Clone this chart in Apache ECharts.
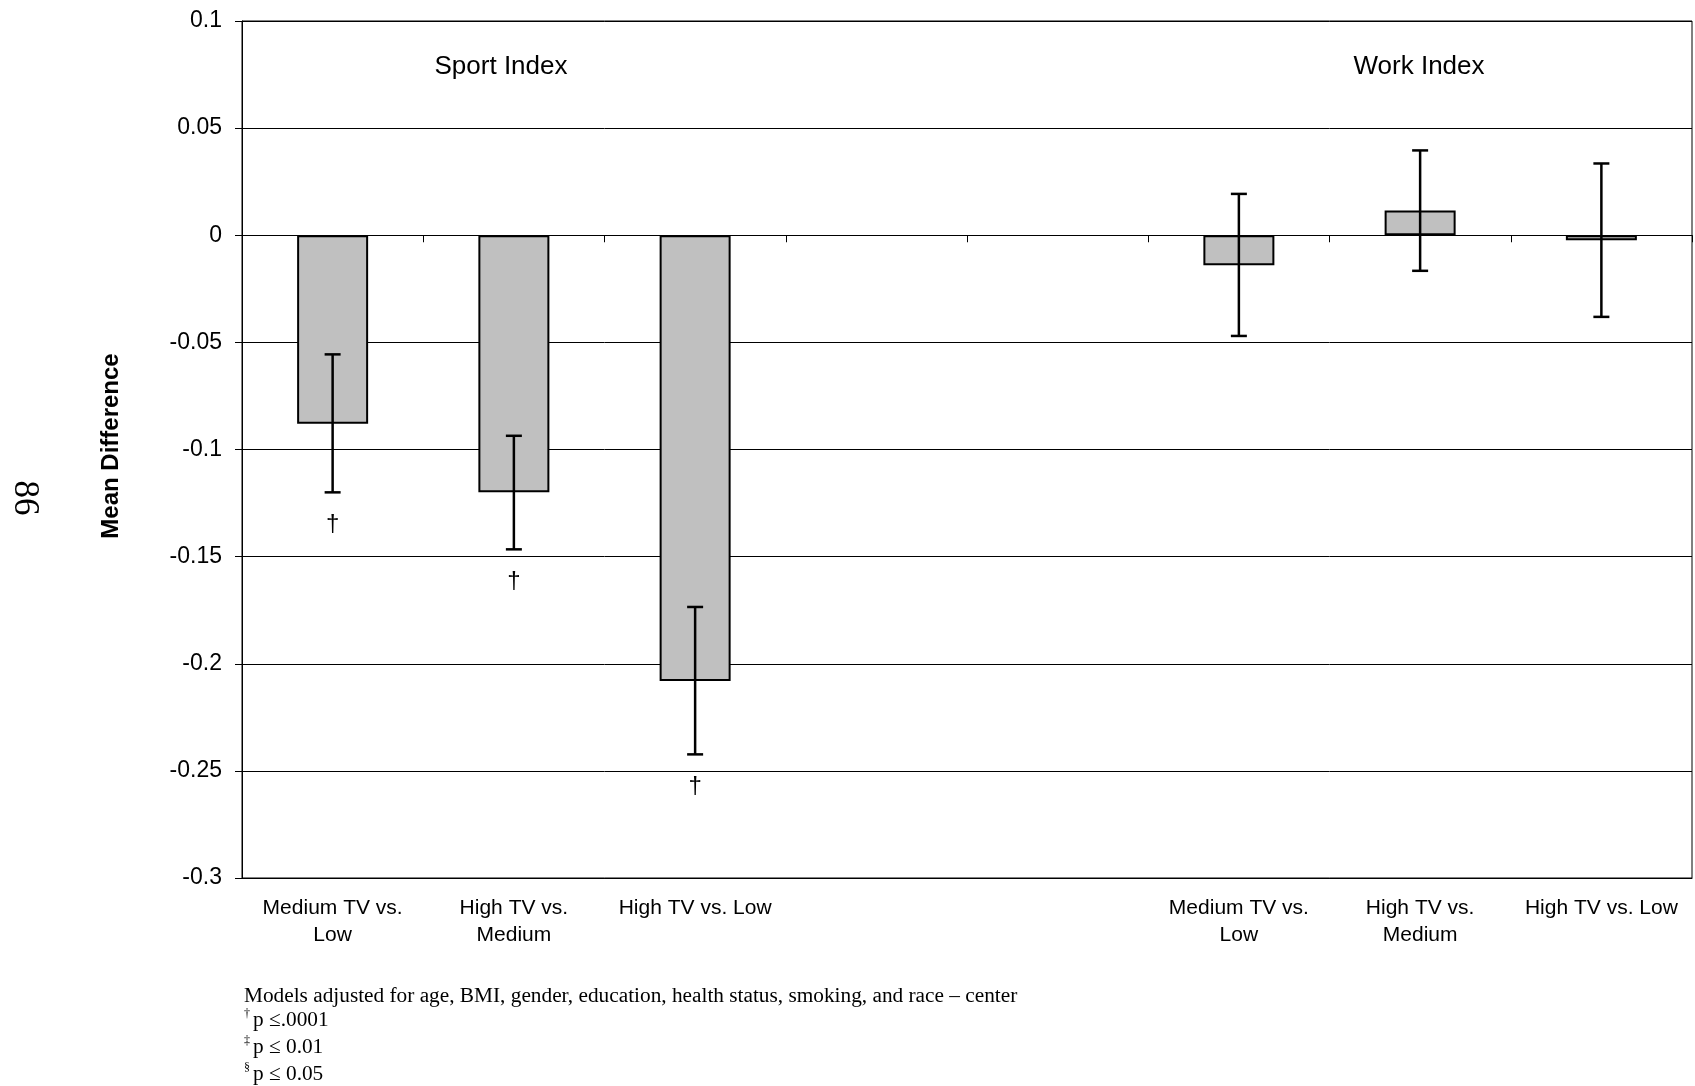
<!DOCTYPE html>
<html>
<head>
<meta charset="utf-8">
<title>Mean Difference by TV Viewing</title>
<script src="https://cdn.jsdelivr.net/npm/echarts@6/dist/echarts.min.js"></script>
<style>
  html, body { margin: 0; padding: 0; background: #fff; }
  #chart { width: 1695px; height: 1086px; }
</style>
</head>
<body>
<div id="chart"></div>
<script>
// Comparisons, three per index, with two empty slots separating the groups
const categories = [
  'Medium TV vs.\nLow', 'High TV vs.\nMedium', 'High TV vs. Low',
  '', '',
  'Medium TV vs.\nLow', 'High TV vs.\nMedium', 'High TV vs. Low'
];
const meanDiff = [-0.088, -0.120, -0.208, null, null, -0.014, 0.0115, -0.0023];
const ciLower  = [-0.120, -0.1466, -0.2423, null, null, -0.047, -0.0166, -0.0381];
const ciUpper  = [-0.0556, -0.0936, -0.1735, null, null, 0.0193, 0.0396, 0.0335];
const significance = ['\u2020', '\u2020', '\u2020', '', '', '', '', ''];
const groupTitles = ['Sport Index', 'Work Index'];
const yMin = -0.3, yMax = 0.1, yStep = 0.05;
const footnoteMain = 'Models adjusted for age, BMI, gender, education, health status, smoking, and race \u2013 center';
const footnoteMarks = ['\u2020', '\u2021', '\u00a7'];
const footnoteLevels = ['p \u2264.0001', 'p \u2264 0.01', 'p \u2264 0.05'];
const pageNumber = '86';

// Fonts
const SANS = 'Arial, "Liberation Sans", Helvetica, sans-serif';
const SERIF = '"Times New Roman", "Liberation Serif", serif';

const chart = echarts.init(document.getElementById('chart'), null, { renderer: 'canvas' });

const errorData = ciLower.map((lo, i) => lo == null ? null : [i, lo, ciUpper[i], significance[i]])
  .filter(d => d !== null);

// Footnote block under the chart
const footGraphics = [{
  type: 'text', x: 244, y: 986,
  style: { text: footnoteMain, font: '21.3px ' + SERIF, fill: '#000', verticalAlign: 'top' }
}];
footnoteLevels.forEach((t, i) => {
  const y = 1010 + i * 26.7;
  footGraphics.push({
    type: 'text', x: 244, y: y - 2,
    style: { text: footnoteMarks[i], font: '12px ' + SERIF, fill: '#000', verticalAlign: 'top' }
  });
  footGraphics.push({
    type: 'text', x: 253, y: y,
    style: { text: t, font: '21.3px ' + SERIF, fill: '#000', verticalAlign: 'top' }
  });
});

const option = {
  backgroundColor: '#fff',
  animation: false,
  grid: {
    left: 242, right: 3, top: 21, bottom: 208,
    show: true, borderColor: '#000', borderWidth: 1, backgroundColor: 'transparent'
  },
  xAxis: [
    {
      // axis line and ticks along the zero level
      type: 'category', data: categories, position: 'bottom',
      axisLine: { onZero: true, lineStyle: { color: '#000', width: 1 } },
      axisTick: { show: true, interval: 0, length: 7, lineStyle: { color: '#000' } },
      axisLabel: { show: false },
      splitLine: { show: false }
    },
    {
      // category names along the bottom edge
      type: 'category', data: categories, position: 'bottom',
      axisLine: { onZero: false, show: true, lineStyle: { color: '#000', width: 1 } },
      axisTick: { show: false },
      axisLabel: {
        interval: 0, margin: 17,
        fontFamily: SANS, fontSize: 21, color: '#000', lineHeight: 27
      },
      splitLine: { show: false }
    }
  ],
  yAxis: {
    type: 'value', min: yMin, max: yMax, interval: yStep,
    name: 'Mean Difference', nameLocation: 'middle', nameGap: 119,
    nameTextStyle: {
      fontFamily: SANS, fontSize: 24, fontWeight: 'bold', color: '#000',
      padding: [0, 0, 0, 7]
    },
    axisLine: { show: true, lineStyle: { color: '#000' } },
    axisTick: { show: true, length: 7, lineStyle: { color: '#000' } },
    axisLabel: {
      margin: 20, fontFamily: SANS, fontSize: 23, color: '#000',
      formatter: v => String(+v.toFixed(2))
    },
    splitLine: { show: true, lineStyle: { color: '#000', width: 1 } }
  },
  series: [
    {
      type: 'bar', xAxisIndex: 0, data: meanDiff, barWidth: 71,
      itemStyle: { color: '#C0C0C0', borderColor: '#000', borderWidth: 2 },
      z: 2
    },
    {
      type: 'custom', xAxisIndex: 0, data: errorData, z: 3,
      encode: { x: 0, y: [1, 2] },
      renderItem: (params, api) => {
        const x = api.value(0);
        const lo = api.coord([x, api.value(1)]);
        const hi = api.coord([x, api.value(2)]);
        const mark = errorData[params.dataIndex][3];
        const cap = 8;
        const ls = { stroke: '#000', lineWidth: 2.5 };
        const children = [
          { type: 'line', shape: { x1: lo[0], y1: lo[1], x2: hi[0], y2: hi[1] }, style: ls },
          { type: 'line', shape: { x1: lo[0] - cap, y1: lo[1], x2: lo[0] + cap, y2: lo[1] }, style: ls },
          { type: 'line', shape: { x1: hi[0] - cap, y1: hi[1], x2: hi[0] + cap, y2: hi[1] }, style: ls }
        ];
        if (mark) {
          children.push({
            type: 'text', x: lo[0], y: lo[1] + 32,
            style: { text: mark, font: '24px ' + SANS, fill: '#000', align: 'center', verticalAlign: 'middle' }
          });
        }
        return { type: 'group', children };
      }
    }
  ],
  graphic: [
    {
      type: 'text', x: 501, y: 67,
      style: { text: groupTitles[0], font: '26px ' + SANS, fill: '#000', align: 'center', verticalAlign: 'middle' }
    },
    {
      type: 'text', x: 1419, y: 67,
      style: { text: groupTitles[1], font: '26px ' + SANS, fill: '#000', align: 'center', verticalAlign: 'middle' }
    },
    {
      type: 'text', x: 24, y: 498, rotation: -Math.PI / 2,
      style: { text: pageNumber, font: '35px ' + SERIF, fill: '#000', align: 'center', verticalAlign: 'middle' }
    }
  ].concat(footGraphics)
};

chart.setOption(option);
</script>
</body>
</html>
